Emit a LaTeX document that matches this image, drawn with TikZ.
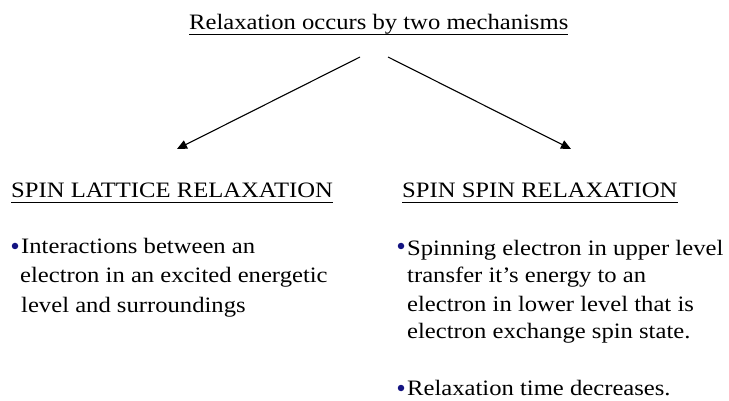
\documentclass[tikz,border=0pt]{standalone}
\usepackage{fontspec}
\setmainfont{Liberation Serif}[FakeStretch=1.12]
\usetikzlibrary{arrows.meta}
\definecolor{bulletblue}{RGB}{20,20,130}
\begin{document}
\begin{tikzpicture}[x=1pt,y=-1pt,
  txt/.style={anchor=base west,inner sep=0pt,font=\fontsize{22}{26}\selectfont},
  uline/.style={line width=0.9pt},
  arrowline/.style={line width=1.1pt,-{Triangle[length=10pt,width=9pt]}},
  dot/.style={circle,fill=bulletblue,inner sep=0pt,minimum size=6.5pt}]
  \useasboundingbox (0,0) rectangle (729,401);

  % heading and the two branches
  \node[txt] (title) at (189,30) {Relaxation occurs by two mechanisms};
  \draw[uline] ([yshift=-4pt]title.base west) -- ([yshift=-4pt]title.base east);
  \coordinate (srcL) at (360,57);
  \coordinate (srcR) at (388,57);
  \coordinate (tipL) at (177,149);
  \coordinate (tipR) at (571,149);
  \draw[arrowline] (srcL) -- (tipL);
  \draw[arrowline] (srcR) -- (tipR);

  % spin-lattice column
  \node[txt] (hL) at (11,198) {SPIN LATTICE RELAXATION};
  \draw[uline] ([yshift=-4pt]hL.base west) -- ([yshift=-4pt]hL.base east);
  \node[dot] (bL1) at (15,246) {};
  \node[txt] (l1) at (21,254) {Interactions between an};
  \node[txt] (l2) at (20,283) {electron in an excited energetic};
  \node[txt] (l3) at (21,312) {level and surroundings};

  % spin-spin column
  \node[txt] (hR) at (402,198) {SPIN SPIN RELAXATION};
  \draw[uline] ([yshift=-4pt]hR.base west) -- ([yshift=-4pt]hR.base east);
  \node[dot] (bR1) at (401,246) {};
  \node[txt] (r1) at (407,255) {Spinning electron in upper level};
  \node[txt] (r2) at (407,283) {transfer it’s energy to an};
  \node[txt] (r3) at (407,311) {electron in lower level that is};
  \node[txt] (r4) at (407,338) {electron exchange spin state.};
  \node[dot] (bR2) at (401,388) {};
  \node[txt] (r5) at (407,395) {Relaxation time decreases.};
\end{tikzpicture}
\end{document}
